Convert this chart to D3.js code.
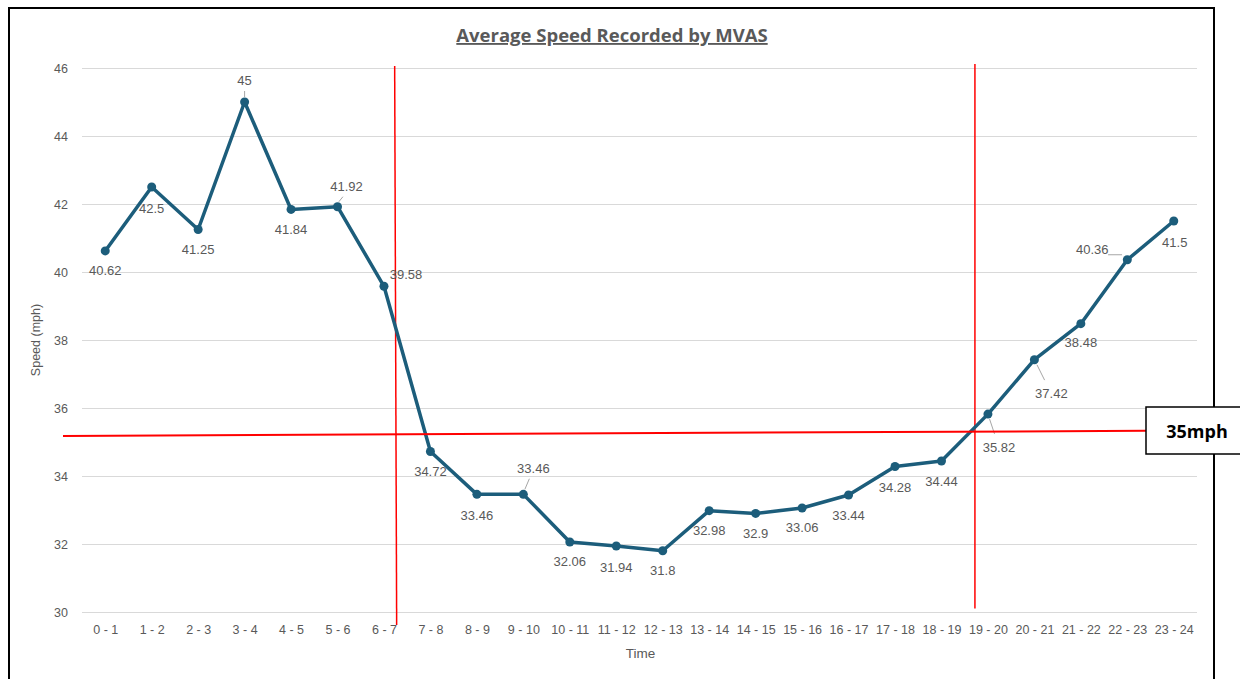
<!DOCTYPE html>
<html>
<head>
<meta charset="utf-8">
<script src="https://cdn.jsdelivr.net/npm/d3@7"></script>
<style>
  body { margin: 0; background: #fff; }
  svg { display: block; }
</style>
</head>
<body>
<div class="chart"></div>
<script>
var hours = ['0 - 1', '1 - 2', '2 - 3', '3 - 4', '4 - 5', '5 - 6', '6 - 7', '7 - 8',
  '8 - 9', '9 - 10', '10 - 11', '11 - 12', '12 - 13', '13 - 14', '14 - 15', '15 - 16',
  '16 - 17', '17 - 18', '18 - 19', '19 - 20', '20 - 21', '21 - 22', '22 - 23', '23 - 24'];
var speeds = [40.62, 42.5, 41.25, 45, 41.84, 41.92, 39.58, 34.72, 33.46, 33.46, 32.06, 31.94,
  31.8, 32.98, 32.9, 33.06, 33.44, 34.28, 34.44, 35.82, 37.42, 38.48, 40.36, 41.5];
var yTicks = [30, 32, 34, 36, 38, 40, 42, 44, 46];
var limit = '35mph';

// label placement (dx, dy from the point), third flag = draw a thin connector
var labelPos = [
  [0, 20], [0, 21], [0, 20], [0, -22, 1], [0, 20], [9, -20, 1], [22, -12], [0, 20],
  [0, 21], [10, -26, 1], [0, 20], [0, 21], [0, 20], [0, 20], [0, 20], [0, 20],
  [0, 20], [0, 21], [0, 20], [11, 33, 1], [17, 34, 1], [0, 19], [-35, -10, 1], [1, 21]
];

var W = 1240, H = 679;
var margin = { top: 68, right: 43, bottom: 67, left: 82 };
var width = W - margin.left - margin.right;
var height = H - margin.top - margin.bottom;
var font = '"Liberation Sans", Arial, sans-serif';

var root = d3.select('.chart')
  .append('svg')
    .attr('width', W)
    .attr('height', H);

// outer frame
root.append('rect')
  .attr('x', 9).attr('y', 8)
  .attr('width', 1205).attr('height', 680)
  .attr('fill', 'none')
  .attr('stroke', '#000')
  .attr('stroke-width', 2);

root.append('text')
  .attr('x', 612).attr('y', 42)
  .attr('text-anchor', 'middle')
  .style('font-family', '"Open Sans", sans-serif')
  .style('font-size', '18.5px')
  .style('font-weight', 'bold')
  .style('text-decoration', 'underline')
  .attr('fill', '#595959')
  .text('Average Speed Recorded by MVAS');

var svg = root.append('g')
  .attr('transform', `translate(${margin.left}, ${margin.top})`);

var x = d3.scalePoint()
  .domain(hours)
  .range([0, width])
  .padding(0.5);

var y = d3.scaleLinear()
  .domain([30, 46])
  .range([height, 0]);

// gridlines + y axis
var yAxis = d3.axisLeft(y).tickValues(yTicks).tickSize(-width).tickPadding(14);
svg.append('g')
  .call(yAxis)
  .call(g => g.select('.domain').remove())
  .call(g => g.selectAll('line').attr('stroke', '#d9d9d9'))
  .call(g => g.selectAll('text')
    .attr('fill', '#595959')
    .style('font-family', font)
    .style('font-size', '12.5px'));

var xAxis = d3.axisBottom(x).tickSize(0).tickPadding(13);
svg.append('g')
  .attr('transform', `translate(0, ${height})`)
  .call(xAxis)
  .call(g => g.select('.domain').remove())
  .call(g => g.selectAll('text')
    .attr('fill', '#595959')
    .style('font-family', font)
    .style('font-size', '12.5px'));

svg.append('text')
  .attr('transform', `translate(-42, ${height / 2}) rotate(-90)`)
  .attr('text-anchor', 'middle')
  .attr('fill', '#595959')
  .style('font-family', font)
  .style('font-size', '12.5px')
  .text('Speed (mph)');

svg.append('text')
  .attr('x', width / 2 + 1).attr('y', height + 46)
  .attr('text-anchor', 'middle')
  .attr('fill', '#595959')
  .style('font-family', font)
  .style('font-size', '13.5px')
  .text('Time');

var step = x.step();

// red marker lines
var v1 = x('6 - 7') + 0.23 * step;
svg.append('line')
  .attr('x1', v1).attr('y1', y(46.06))
  .attr('x2', v1 + 2).attr('y2', y(29.62))
  .attr('stroke', '#ff0000').attr('stroke-width', 1.5);
var v2 = x('19 - 20') - 0.28 * step;
svg.append('line')
  .attr('x1', v2).attr('y1', y(46.12))
  .attr('x2', v2).attr('y2', y(30.1))
  .attr('stroke', '#ff0000').attr('stroke-width', 1.5);

// data line
var line = d3.line()
  .x((d, i) => x(hours[i]))
  .y(d => y(d));

svg.append('path')
  .datum(speeds)
  .attr('fill', 'none')
  .attr('stroke', '#1c5d7b')
  .attr('stroke-width', 3.5)
  .attr('stroke-linejoin', 'round')
  .attr('d', line);

svg.selectAll('.dot')
  .data(speeds)
  .enter()
  .append('circle')
    .attr('class', 'dot')
    .attr('cx', (d, i) => x(hours[i]))
    .attr('cy', d => y(d))
    .attr('r', 4.5)
    .attr('fill', '#1c5d7b');

// leaders
svg.selectAll('.leader')
  .data(speeds.map((d, i) => [d, i]).filter(p => labelPos[p[1]][2]))
  .enter()
  .append('line')
    .attr('class', 'leader')
    .attr('x1', p => x(hours[p[1]]) + labelPos[p[1]][0] * 0.15)
    .attr('y1', p => y(p[0]) + Math.sign(labelPos[p[1]][1]) * 5)
    .attr('x2', p => x(hours[p[1]]) + labelPos[p[1]][0] * (labelPos[p[1]][0] < -20 ? 0.55 : 0.6))
    .attr('y2', p => y(p[0]) + labelPos[p[1]][1] * (Math.abs(labelPos[p[1]][1]) > 25 ? 0.6 : 0.5))
    .attr('stroke', '#a6a6a6')
    .attr('stroke-width', 1);

svg.selectAll('.lbl')
  .data(speeds)
  .enter()
  .append('text')
    .attr('class', 'lbl')
    .attr('x', (d, i) => x(hours[i]) + labelPos[i][0])
    .attr('y', (d, i) => y(d) + labelPos[i][1])
    .attr('text-anchor', 'middle')
    .attr('dominant-baseline', 'central')
    .attr('fill', '#595959')
    .style('font-family', font)
    .style('font-size', '13px')
    .text(d => d);

// 35 mph reference line and its callout box
root.append('line')
  .attr('x1', 63).attr('y1', margin.top + y(35.18))
  .attr('x2', 1146).attr('y2', margin.top + y(35.33))
  .attr('stroke', '#ff0000').attr('stroke-width', 2);

root.append('rect')
  .attr('x', 1146).attr('y', 407)
  .attr('width', 100).attr('height', 47)
  .attr('fill', '#fff')
  .attr('stroke', '#000')
  .attr('stroke-width', 1.5);

root.append('text')
  .attr('x', 1197).attr('y', 431)
  .attr('text-anchor', 'middle')
  .attr('dominant-baseline', 'central')
  .style('font-family', '"Open Sans", sans-serif')
  .style('font-size', '18px')
  .style('font-weight', 'bold')
  .attr('fill', '#000')
  .text(limit);
</script>
</body>
</html>
